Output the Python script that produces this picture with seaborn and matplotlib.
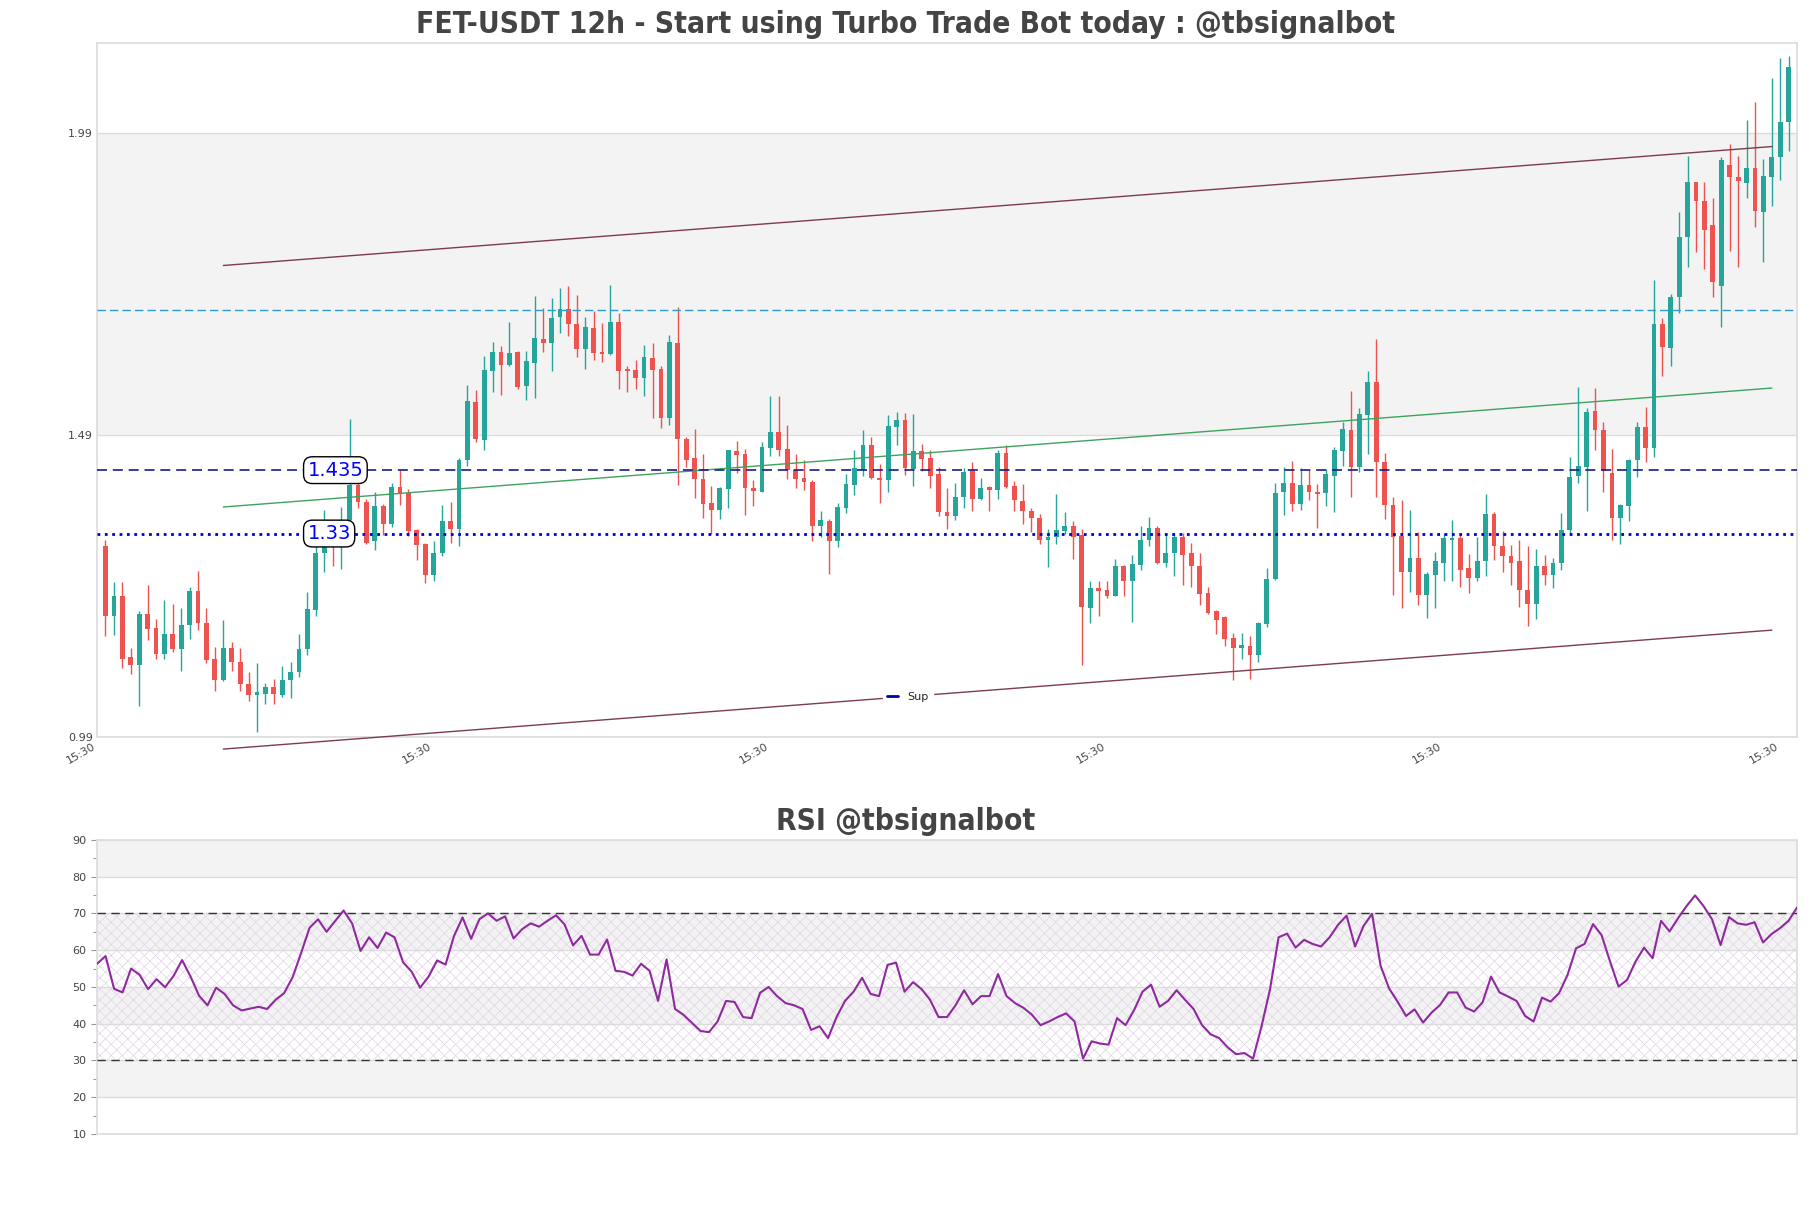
import numpy as np
import pandas as pd
import matplotlib
matplotlib.use("Agg")
import matplotlib.pyplot as plt
import seaborn as sns
from matplotlib.ticker import MultipleLocator, FormatStrFormatter
from matplotlib.lines import Line2D

# candle data (12h candles)
opens = [1.310, 1.194, 1.227, 1.125, 1.112, 1.197, 1.174, 1.130, 1.164, 1.138,
         1.178, 1.235, 1.181, 1.123, 1.088, 1.141, 1.118, 1.081, 1.062, 1.065,
         1.075, 1.063, 1.087, 1.100, 1.138, 1.204, 1.297, 1.317, 1.309, 1.353,
         1.411, 1.383, 1.317, 1.376, 1.346, 1.407, 1.397, 1.336, 1.313, 1.262,
         1.298, 1.351, 1.338, 1.452, 1.548, 1.485, 1.600, 1.631, 1.609, 1.631,
         1.575, 1.613, 1.652, 1.645, 1.688, 1.702, 1.677, 1.635, 1.671, 1.629,
         1.627, 1.681, 1.602, 1.601, 1.588, 1.621, 1.602, 1.522, 1.646, 1.486,
         1.455, 1.421, 1.380, 1.369, 1.403, 1.467, 1.462, 1.406, 1.399, 1.472,
         1.499, 1.470, 1.436, 1.422, 1.416, 1.342, 1.351, 1.318, 1.373, 1.411,
         1.436, 1.477, 1.422, 1.418, 1.507, 1.518, 1.437, 1.466, 1.455, 1.429,
         1.365, 1.359, 1.391, 1.433, 1.387, 1.407, 1.402, 1.463, 1.408, 1.384,
         1.368, 1.356, 1.319, 1.324, 1.335, 1.343, 1.328, 1.206, 1.240, 1.237,
         1.227, 1.276, 1.252, 1.278, 1.319, 1.340, 1.281, 1.297, 1.325, 1.297,
         1.277, 1.232, 1.201, 1.191, 1.157, 1.141, 1.144, 1.129, 1.180, 1.255,
         1.398, 1.414, 1.379, 1.411, 1.399, 1.397, 1.426, 1.466, 1.502, 1.441,
         1.527, 1.581, 1.448, 1.377, 1.326, 1.266, 1.290, 1.229, 1.262, 1.282,
         1.320, 1.323, 1.273, 1.257, 1.284, 1.363, 1.309, 1.292, 1.285, 1.236,
         1.214, 1.276, 1.262, 1.282, 1.336, 1.426, 1.441, 1.533, 1.502, 1.430,
         1.356, 1.376, 1.451, 1.507, 1.471, 1.677, 1.638, 1.721, 1.821, 1.912,
         1.881, 1.841, 1.740, 1.941, 1.921, 1.910, 1.936, 1.862, 1.921, 1.953,
         2.012]
highs = [1.320, 1.249, 1.250, 1.140, 1.201, 1.245, 1.188, 1.220, 1.214, 1.207,
         1.242, 1.268, 1.207, 1.142, 1.186, 1.150, 1.140, 1.100, 1.116, 1.082,
         1.089, 1.110, 1.118, 1.164, 1.234, 1.314, 1.369, 1.331, 1.374, 1.520,
         1.424, 1.388, 1.399, 1.379, 1.414, 1.435, 1.404, 1.337, 1.315, 1.317,
         1.378, 1.383, 1.455, 1.576, 1.567, 1.624, 1.648, 1.640, 1.680, 1.633,
         1.633, 1.724, 1.703, 1.720, 1.736, 1.740, 1.725, 1.689, 1.698, 1.678,
         1.741, 1.696, 1.607, 1.618, 1.643, 1.646, 1.607, 1.659, 1.705, 1.490,
         1.503, 1.462, 1.409, 1.407, 1.469, 1.484, 1.470, 1.419, 1.481, 1.557,
         1.557, 1.510, 1.462, 1.452, 1.419, 1.368, 1.354, 1.381, 1.429, 1.468,
         1.502, 1.490, 1.446, 1.527, 1.531, 1.529, 1.528, 1.479, 1.469, 1.440,
         1.406, 1.413, 1.438, 1.449, 1.422, 1.409, 1.469, 1.477, 1.417, 1.412,
         1.373, 1.362, 1.337, 1.395, 1.366, 1.350, 1.338, 1.252, 1.252, 1.251,
         1.288, 1.278, 1.294, 1.343, 1.358, 1.342, 1.331, 1.331, 1.331, 1.315,
         1.298, 1.242, 1.204, 1.194, 1.165, 1.165, 1.160, 1.184, 1.273, 1.414,
         1.441, 1.450, 1.438, 1.435, 1.412, 1.437, 1.474, 1.514, 1.566, 1.538,
         1.600, 1.652, 1.463, 1.390, 1.386, 1.369, 1.333, 1.267, 1.299, 1.331,
         1.353, 1.331, 1.296, 1.325, 1.396, 1.366, 1.335, 1.311, 1.320, 1.309,
         1.304, 1.294, 1.290, 1.364, 1.457, 1.572, 1.538, 1.571, 1.515, 1.470,
         1.379, 1.453, 1.514, 1.540, 1.750, 1.687, 1.727, 1.862, 1.955, 1.913,
         1.913, 1.885, 1.953, 1.975, 1.955, 2.015, 2.045, 1.951, 2.084, 2.117,
         2.121]
lows = [1.161, 1.162, 1.108, 1.097, 1.044, 1.153, 1.123, 1.123, 1.133, 1.102,
        1.156, 1.171, 1.115, 1.070, 1.085, 1.102, 1.069, 1.052, 1.002, 1.048,
        1.047, 1.060, 1.058, 1.093, 1.129, 1.193, 1.266, 1.276, 1.272, 1.351,
        1.372, 1.312, 1.302, 1.327, 1.341, 1.377, 1.326, 1.287, 1.248, 1.252,
        1.292, 1.314, 1.309, 1.442, 1.481, 1.469, 1.564, 1.560, 1.608, 1.570,
        1.551, 1.555, 1.630, 1.600, 1.662, 1.658, 1.623, 1.602, 1.618, 1.614,
        1.626, 1.570, 1.564, 1.570, 1.557, 1.522, 1.504, 1.510, 1.411, 1.440,
        1.389, 1.356, 1.330, 1.354, 1.373, 1.430, 1.360, 1.375, 1.398, 1.458,
        1.459, 1.421, 1.406, 1.402, 1.317, 1.325, 1.263, 1.307, 1.364, 1.394,
        1.426, 1.420, 1.381, 1.398, 1.477, 1.427, 1.409, 1.433, 1.406, 1.359,
        1.338, 1.352, 1.373, 1.367, 1.386, 1.367, 1.388, 1.405, 1.368, 1.346,
        1.333, 1.313, 1.274, 1.313, 1.329, 1.288, 1.112, 1.181, 1.194, 1.224,
        1.226, 1.226, 1.183, 1.270, 1.309, 1.280, 1.274, 1.260, 1.244, 1.241,
        1.211, 1.196, 1.164, 1.144, 1.088, 1.122, 1.089, 1.118, 1.175, 1.253,
        1.361, 1.368, 1.369, 1.385, 1.340, 1.375, 1.365, 1.442, 1.391, 1.432,
        1.462, 1.391, 1.354, 1.229, 1.206, 1.234, 1.211, 1.190, 1.207, 1.251,
        1.251, 1.241, 1.232, 1.251, 1.259, 1.286, 1.267, 1.245, 1.209, 1.177,
        1.188, 1.244, 1.240, 1.270, 1.328, 1.413, 1.367, 1.469, 1.398, 1.320,
        1.313, 1.350, 1.424, 1.449, 1.456, 1.591, 1.608, 1.695, 1.771, 1.797,
        1.768, 1.721, 1.672, 1.798, 1.772, 1.885, 1.837, 1.779, 1.872, 1.916,
        1.964]
closes = [1.193, 1.227, 1.123, 1.112, 1.196, 1.172, 1.130, 1.164, 1.138, 1.178,
          1.235, 1.181, 1.120, 1.088, 1.141, 1.117, 1.080, 1.062, 1.068, 1.075,
          1.065, 1.088, 1.101, 1.139, 1.205, 1.298, 1.317, 1.310, 1.353, 1.411,
          1.382, 1.315, 1.376, 1.346, 1.407, 1.397, 1.335, 1.311, 1.262, 1.298,
          1.351, 1.338, 1.452, 1.550, 1.487, 1.601, 1.631, 1.609, 1.629, 1.572,
          1.616, 1.654, 1.645, 1.687, 1.702, 1.677, 1.635, 1.672, 1.629, 1.627,
          1.680, 1.600, 1.599, 1.588, 1.623, 1.601, 1.522, 1.648, 1.486, 1.452,
          1.421, 1.379, 1.369, 1.405, 1.468, 1.460, 1.405, 1.401, 1.474, 1.499,
          1.469, 1.435, 1.421, 1.415, 1.342, 1.353, 1.318, 1.374, 1.412, 1.438,
          1.477, 1.422, 1.418, 1.508, 1.518, 1.438, 1.466, 1.454, 1.425, 1.365,
          1.359, 1.391, 1.432, 1.388, 1.405, 1.402, 1.463, 1.407, 1.385, 1.367,
          1.355, 1.319, 1.325, 1.336, 1.343, 1.325, 1.208, 1.240, 1.235, 1.226,
          1.276, 1.252, 1.280, 1.320, 1.340, 1.281, 1.298, 1.324, 1.295, 1.276,
          1.230, 1.198, 1.187, 1.155, 1.141, 1.146, 1.129, 1.181, 1.255, 1.397,
          1.414, 1.379, 1.411, 1.398, 1.396, 1.429, 1.468, 1.503, 1.441, 1.528,
          1.581, 1.448, 1.377, 1.325, 1.266, 1.290, 1.229, 1.263, 1.284, 1.322,
          1.323, 1.270, 1.256, 1.285, 1.363, 1.309, 1.292, 1.282, 1.236, 1.214,
          1.276, 1.262, 1.282, 1.336, 1.423, 1.442, 1.532, 1.501, 1.433, 1.356,
          1.377, 1.452, 1.507, 1.471, 1.677, 1.639, 1.721, 1.821, 1.912, 1.880,
          1.833, 1.746, 1.949, 1.920, 1.914, 1.936, 1.865, 1.922, 1.953, 2.012,
          2.102]

rsi = [56.3, 58.4, 49.5, 48.5, 55.0, 53.3, 49.4, 52.1, 49.9, 53.0,
       57.3, 52.8, 47.6, 45.0, 49.8, 48.1, 45.0, 43.6, 44.1, 44.6,
       44.0, 46.5, 48.3, 52.6, 59.2, 66.1, 68.4, 65.0, 67.9, 70.8,
       67.3, 59.8, 63.5, 60.6, 64.8, 63.5, 56.7, 54.2, 49.8, 52.8,
       57.2, 56.1, 63.9, 68.9, 63.1, 68.5, 70.0, 68.0, 69.2, 63.2,
       65.7, 67.3, 66.4, 68.0, 69.5, 67.0, 61.3, 63.9, 58.8, 58.8,
       62.9, 54.4, 54.1, 53.1, 56.3, 54.4, 46.2, 57.5, 44.0, 42.4,
       40.2, 38.0, 37.7, 40.6, 46.2, 45.9, 41.8, 41.5, 48.4, 50.0,
       47.5, 45.6, 45.0, 44.0, 38.3, 39.3, 36.1, 41.8, 46.2, 48.7,
       52.5, 48.1, 47.5, 56.0, 56.6, 48.7, 51.3, 49.4, 46.5, 41.8,
       41.8, 45.0, 49.1, 45.3, 47.5, 47.5, 53.5, 47.5, 45.6, 44.3,
       42.4, 39.6, 40.6, 41.8, 42.8, 40.6, 30.5, 35.2, 34.6, 34.3,
       41.5, 39.6, 43.7, 48.7, 50.6, 44.6, 46.2, 49.1, 46.5, 44.0,
       39.6, 37.1, 36.1, 33.6, 31.7, 32.0, 30.5, 39.3, 49.4, 63.5,
       64.5, 60.7, 62.8, 61.7, 61.0, 63.5, 66.9, 69.4, 61.0, 66.6,
       69.9, 55.8, 49.6, 46.0, 42.1, 43.9, 40.3, 43.0, 45.1, 48.5,
       48.5, 44.4, 43.3, 45.8, 52.8, 48.5, 47.4, 46.2, 42.1, 40.6,
       47.1, 46.0, 48.3, 53.3, 60.5, 61.7, 67.1, 64.1, 56.9, 50.1,
       51.9, 56.9, 60.7, 57.8, 68.0, 65.1, 68.7, 72.0, 74.9, 72.0,
       68.4, 61.4, 69.0, 67.3, 66.9, 67.6, 62.1, 64.4, 66.0, 68.0,
       71.6]

tick_pos = [-1, 39, 79, 119, 159, 199]
tick_labels = ["15:30"] * len(tick_pos)
price_ticks = [0.993, 1.493, 1.993]
resistance = 1.435
support = 1.33
upper_level = 1.70
trend_x = [14, 198]
trend_upper = [1.774, 1.971]
trend_mid = [1.374, 1.571]
trend_lower = [0.973, 1.170]

GREEN = "#26a69a"
RED = "#ef5350"
BAND = "#f3f3f3"
TEXT = "#444444"

sns.set_theme(style="white")
plt.rcParams["font.family"] = ["DejaVu Sans"]
plt.rcParams["hatch.linewidth"] = 0.5

fig = plt.figure(figsize=(18.11, 12.08), dpi=100)
ax = fig.add_axes([0.0536, 0.3899, 0.9387, 0.5745])
ax2 = fig.add_axes([0.0536, 0.0613, 0.9387, 0.2434])

# ---- price chart ----
df = pd.DataFrame({"open": opens, "high": highs, "low": lows, "close": closes})
df["x"] = np.arange(len(df))
colors = np.where(df["close"] >= df["open"], GREEN, RED)
body_low = df[["open", "close"]].min(axis=1)
body_h = (df["close"] - df["open"]).abs().clip(lower=0.003)

ax.vlines(df["x"], df["low"], df["high"], colors=colors, lw=1, zorder=3)
ax.bar(df["x"], body_h, bottom=body_low, width=0.57, color=colors,
       linewidth=0, edgecolor="none", zorder=4)

ymin, ymax = 0.993, 2.1425
ax.set_ylim(ymin, ymax)
ax.set_xlim(-1, 201)
ax.axhspan(price_ticks[1], price_ticks[2], color=BAND, zorder=0, lw=0)
for p in price_ticks:
    ax.axhline(p, color="#dcdcdc", lw=1, zorder=1)

ax.plot(trend_x, trend_upper, color="#7d3c4c", lw=1, zorder=5, clip_on=False)
ax.plot(trend_x, trend_lower, color="#7d3c4c", lw=1, zorder=5, clip_on=False)
ax.plot(trend_x, trend_mid, color="#3da35d", lw=1, zorder=5)

ax.axhline(upper_level, color="#2e9bd0", lw=1, ls=(0, (6, 3)), zorder=5)
ax.axhline(resistance, color="#1a1a8c", lw=1.2, ls=(0, (6, 3.5)), zorder=5)
ax.axhline(support, color="#0000cc", lw=2, ls=":", zorder=5)

box = dict(boxstyle="round,pad=0.2,rounding_size=0.45", fc="white", ec="black", lw=1)
ax.text(24, resistance, "1.435", color="blue", fontsize=14, ha="left",
        va="center", bbox=box, zorder=7)
ax.text(24, support, "1.33", color="blue", fontsize=14, ha="left",
        va="center", bbox=box, zorder=7)

sup_handle = Line2D([], [], color="#0000aa", lw=2)
leg = ax.legend([sup_handle], ["Sup"], loc="center", bbox_to_anchor=(0.477, 0.058),
                frameon=True, facecolor="white", edgecolor="white", framealpha=1,
                fontsize=8, handlelength=1)
leg.set_zorder(8)

ax.set_yticks(price_ticks)
ax.yaxis.set_major_formatter(FormatStrFormatter("%.2f"))
ax.set_xticks(tick_pos)
ax.set_xticklabels(tick_labels, rotation=30, ha="right")
ax.tick_params(axis="both", length=0, labelsize=8, labelcolor=TEXT, pad=3)
for s in ax.spines.values():
    s.set_color("#dddddd")
ax.set_xlabel("")
ax.set_ylabel("")

# ---- RSI ----
rsi_df = pd.DataFrame({"x": np.arange(len(rsi)), "rsi": rsi})
for lo in [20, 40, 60, 80]:
    ax2.axhspan(lo, lo + 10, color=BAND, zorder=0, lw=0)
for lv in range(10, 91, 10):
    ax2.axhline(lv, color="#dcdcdc", lw=1, zorder=1)
ax2.fill_between([0, len(rsi) - 1], 30, 70, facecolor="none", edgecolor="#e2d3e8",
                 hatch="xxx", lw=0, zorder=1)
ax2.axhline(70, color="#333333", lw=1, ls=(0, (6, 4)), zorder=3)
ax2.axhline(30, color="#333333", lw=1, ls=(0, (6, 4)), zorder=3)
sns.lineplot(data=rsi_df, x="x", y="rsi", ax=ax2, color="#8e2a9e", lw=1.5, zorder=4)

ax2.set_xlim(0, len(rsi) - 1)
ax2.set_ylim(10, 90)
ax2.set_xticks([])
ax2.yaxis.set_major_locator(MultipleLocator(10))
ax2.yaxis.set_minor_locator(MultipleLocator(5))
ax2.tick_params(axis="y", which="major", left=True, length=4, width=0.8,
                color="#999999", labelsize=8, labelcolor=TEXT)
ax2.tick_params(axis="y", which="minor", left=True, length=3, width=0.8,
                color="#999999")
for s in ax2.spines.values():
    s.set_color("#dddddd")
ax2.set_xlabel("")
ax2.set_ylabel("")

fig.text(0.5, 0.980, "FET-USDT 12h - Start using Turbo Trade Bot today : @tbsignalbot",
         ha="center", va="center", fontsize=21.4, fontweight="bold", color=TEXT,
         fontstretch="condensed")
fig.text(0.5, 0.320, "RSI @tbsignalbot", ha="center", va="center", fontsize=21.4,
         fontweight="bold", color=TEXT, fontstretch="condensed")

fig.savefig("out.png", dpi=100)
